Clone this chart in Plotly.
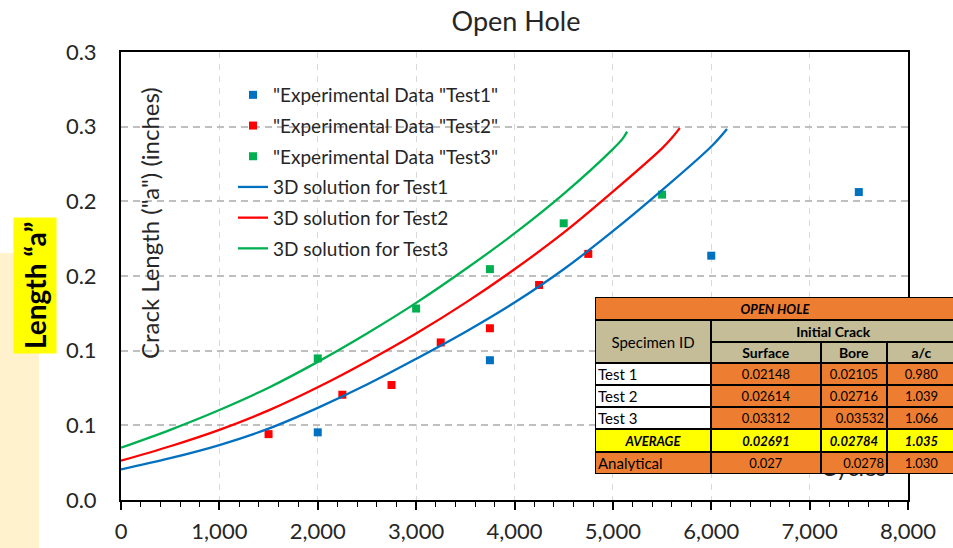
import plotly.graph_objects as go

# ---------------- data ----------------
# 3D solution curves (cycles, crack length "a" in inches)
sol1_cycles = [0, 500, 1000, 1500, 2000, 2500, 3000, 3500, 4000, 4500, 5000, 5500, 6000, 6160]
sol1_a = [0.0205, 0.0280, 0.0368, 0.0478, 0.0617, 0.0773, 0.0945, 0.1125, 0.1322, 0.1545, 0.1800, 0.2075, 0.2367, 0.2485]

sol2_cycles = [0, 500, 1000, 1500, 2000, 2500, 3000, 3500, 4000, 4500, 5000, 5500, 5600, 5680]
sol2_a = [0.0263, 0.0360, 0.0470, 0.0600, 0.0755, 0.0928, 0.1115, 0.1320, 0.1545, 0.1790, 0.2065, 0.2355, 0.2425, 0.2490]

sol3_cycles = [0, 500, 1000, 1500, 2000, 2500, 3000, 3500, 4000, 4500, 5000, 5100, 5145]
sol3_a = [0.0350, 0.0470, 0.0603, 0.0752, 0.0925, 0.1115, 0.1320, 0.1545, 0.1785, 0.2050, 0.2350, 0.2420, 0.2467]

# Experimental measurements
exp1_cycles = [2000, 3750, 6000, 7500]
exp1_a = [0.0453, 0.0936, 0.1636, 0.2062]
exp2_cycles = [1500, 2250, 2750, 3250, 3750, 4250, 4750]
exp2_a = [0.0441, 0.0705, 0.0770, 0.1055, 0.1150, 0.1440, 0.1648]
exp3_cycles = [2000, 3000, 3750, 4500, 5500]
exp3_a = [0.0948, 0.1282, 0.1546, 0.1853, 0.2045]

# Axis ticks
x_tick_vals = [0, 1000, 2000, 3000, 4000, 5000, 6000, 7000, 8000]
x_tick_labels = ["0", "1,000", "2,000", "3,000", "4,000", "5,000", "6,000", "7,000", "8,000"]
y_tick_vals = [0.0, 0.05, 0.10, 0.15, 0.20, 0.25, 0.30]
y_tick_labels = ["0.0", "0.1", "0.1", "0.2", "0.2", "0.3", "0.3"]

# Initial crack table
table_title = "OPEN HOLE"
spec_ids = ["Test 1", "Test 2", "Test 3"]
surface_vals = ["0.02148", "0.02614", "0.03312"]
bore_vals = ["0.02105", "0.02716", "0.03532"]
ac_vals = ["0.980", "1.039", "1.066"]
average_row = ["AVERAGE", "0.02691", "0.02784", "1.035"]
analytical_row = ["Analytical", "0.027", "0.0278", "1.030"]

# ---------------- styling ----------------
FONT = "Lato, Carlito, Calibri, sans-serif"
BLUE, RED, GREEN = "#0070C0", "#FF0000", "#00B050"
ORANGE, TAN, YELLOW, BEIGE = "#ED7D31", "#C4BD97", "#FFFF00", "#FFF2CC"

W, H = 953, 548
ML, MR, MT, MB = 121, 45, 52, 48
PW, PH = W - ML - MR, H - MT - MB


def px_x(p):
    return (p - ML) / PW


def px_y(p):
    return (H - MB - p) / PH


fig = go.Figure()

exp_series = [
    ('"Experimental Data "Test1"', exp1_cycles, exp1_a, BLUE),
    ('"Experimental Data "Test2"', exp2_cycles, exp2_a, RED),
    ('"Experimental Data "Test3"', exp3_cycles, exp3_a, GREEN),
]
sol_series = [
    ("3D solution for Test1", sol1_cycles, sol1_a, BLUE),
    ("3D solution for Test2", sol2_cycles, sol2_a, RED),
    ("3D solution for Test3", sol3_cycles, sol3_a, GREEN),
]

for i, (name, xs, ys, col) in enumerate(exp_series):
    fig.add_trace(go.Scatter(
        x=xs, y=ys, mode="markers", name=name, legendgroup=f"g{i}",
        marker=dict(symbol="square", size=8, color=col),
    ))
for i, (name, xs, ys, col) in enumerate(sol_series):
    fig.add_trace(go.Scatter(
        x=xs, y=ys, mode="lines", name=name, legendgroup=f"s{i}",
        line=dict(color=col, width=2.3, shape="spline", smoothing=1.0),
    ))

annotations = []

# y-axis title drawn inside the plot area
annotations.append(dict(
    text='Crack Length ("a") (inches)', xref="paper", yref="paper",
    x=px_x(149), y=px_y(223), xanchor="center", yanchor="middle",
    textangle=-90, showarrow=False,
    font=dict(family=FONT, size=24, color="#262626"),
))
# x-axis title, partly covered by the table
annotations.append(dict(
    text="Cycles", xref="paper", yref="paper",
    x=px_x(853), y=px_y(467), xanchor="center", yanchor="middle",
    showarrow=False,
    font=dict(family=FONT, size=23, color="#262626"),
))
# highlighted side label
annotations.append(dict(
    text="<b>Length \u201ca\u201d</b>", xref="paper", yref="paper",
    x=px_x(35), y=px_y(286), xanchor="center", yanchor="middle",
    textangle=-90, showarrow=False,
    bgcolor=YELLOW, borderpad=4,
    font=dict(family=FONT, size=28, color="black"),
))

# ---- table built from annotation cells ----
cx = [595, 711, 821, 887, 956]
ry = [297, 320, 342, 363, 385, 407, 429, 452, 474]
BW, BP = 1, 2


def cell(x0, y0, x1, y1, text, fill, align="center", size=14):
    annotations.append(dict(
        text=text, xref="paper", yref="paper",
        x=px_x((x0 + x1) / 2), y=px_y((y0 + y1) / 2),
        xanchor="center", yanchor="middle", showarrow=False,
        width=x1 - x0 - 2 * (BW + BP), height=y1 - y0 - 2 * (BW + BP),
        align=align, valign="middle", bgcolor=fill,
        bordercolor="black", borderwidth=BW, borderpad=BP,
        font=dict(family=FONT, size=size, color="black"),
    ))


cell(cx[0], ry[0], cx[4], ry[1], f"<b><i>{table_title}</i></b>", ORANGE, size=13)
cell(cx[0], ry[1], cx[1], ry[3], "Specimen ID", TAN, size=15)
cell(cx[1], ry[1], cx[4], ry[2], "<b>Initial Crack</b>", TAN)
for j, hdr in enumerate(["Surface", "Bore", "a/c"]):
    cell(cx[j + 1], ry[2], cx[j + 2], ry[3], f"<b>{hdr}</b>", TAN)

for i in range(3):
    y0, y1 = ry[3 + i], ry[4 + i]
    cell(cx[0], y0, cx[1], y1, spec_ids[i], "white", align="left", size=15)
    cell(cx[1], y0, cx[2], y1, surface_vals[i], ORANGE, size=13)
    cell(cx[2], y0, cx[3], y1, bore_vals[i], ORANGE, align="right" if i == 2 else "center", size=13)
    cell(cx[3], y0, cx[4], y1, ac_vals[i], ORANGE, size=13)

for j, v in enumerate(average_row):
    cell(cx[j], ry[6], cx[j + 1], ry[7], f"<b><i>{v}</i></b>", YELLOW, size=13)

for j, v in enumerate(analytical_row):
    al = "left" if j == 0 else ("right" if j == 2 else "center")
    cell(cx[j], ry[7], cx[j + 1], ry[8], v, ORANGE, align=al, size=15 if j == 0 else 13)

shapes = [
    dict(type="rect", xref="paper", yref="paper",
         x0=px_x(-2), x1=px_x(39), y0=px_y(253), y1=px_y(550),
         fillcolor=BEIGE, line=dict(width=0), layer="below"),
]

fig.update_layout(
    width=W, height=H,
    margin=dict(l=ML, r=MR, t=MT, b=MB, autoexpand=False),
    paper_bgcolor="white", plot_bgcolor="white",
    font=dict(family=FONT, color="#262626"),
    title=dict(text="Open Hole", x=px_x(516), xref="paper", xanchor="center",
               y=1 - 22 / H, yanchor="middle",
               font=dict(family=FONT, size=27, color="#262626")),
    showlegend=True,
    legend=dict(
        x=px_x(233), y=px_y(76), xanchor="left", yanchor="top",
        bgcolor="rgba(0,0,0,0)", borderwidth=0,
        font=dict(family=FONT, size=19, color="#262626"),
        tracegroupgap=3, itemwidth=30,
    ),
    annotations=annotations,
    shapes=shapes,
)

fig.update_xaxes(
    range=[0, 8000], tickvals=x_tick_vals, ticktext=x_tick_labels,
    automargin=False,
    showline=True, linecolor="black", linewidth=2, mirror=True,
    ticks="outside", ticklen=8, tickwidth=1.5, tickcolor="black",
    minor=dict(dtick=200, ticks="outside", ticklen=5, tickwidth=1, tickcolor="black", showgrid=False),
    showgrid=True, gridcolor="#D9D9D9", gridwidth=1, griddash="6px,6px",
    tickfont=dict(family=FONT, size=22, color="#262626"),
    ticklabelstandoff=3,
    zeroline=False,
)
fig.update_yaxes(
    range=[0, 0.3], tickvals=y_tick_vals, ticktext=y_tick_labels,
    automargin=False,
    showline=True, linecolor="black", linewidth=2, mirror=True,
    ticks="", ticklabelstandoff=18,
    showgrid=True, gridcolor="#BFBFBF", gridwidth=1.5, griddash="7px,5px",
    tickfont=dict(family=FONT, size=22, color="#262626"),
    zeroline=False,
)

fig.write_html("out.html")
